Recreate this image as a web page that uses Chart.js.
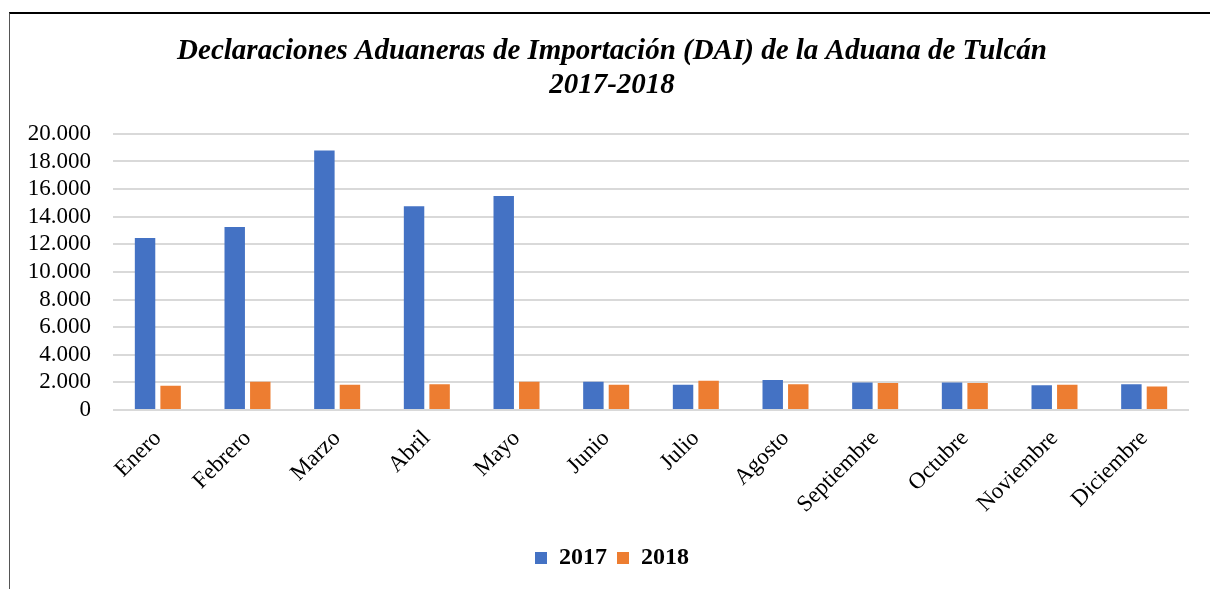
<!DOCTYPE html>
<html>
<head>
<meta charset="utf-8">
<script src="https://cdn.jsdelivr.net/npm/chart.js@4"></script>
<style>
  html, body { margin: 0; padding: 0; background: #fff; overflow: hidden; }
  #marco { position: absolute; left: 9px; top: 12px; width: 1400px; height: 800px;
           border-top: 2px solid #000; border-left: 1.5px solid #555; }
  #caja { position: absolute; left: 0; top: 0; width: 1210px; height: 589px; }
</style>
</head>
<body>
<div id="marco"></div>
<div id="caja"><canvas id="chartDAI"></canvas></div>
<script>
// Datos
const meses = ['Enero', 'Febrero', 'Marzo', 'Abril', 'Mayo', 'Junio', 'Julio', 'Agosto',
               'Septiembre', 'Octubre', 'Noviembre', 'Diciembre'];
const dai2017 = [12450, 13250, 18800, 14750, 15500, 2050, 1820, 2180, 1990, 1990, 1800, 1870];
const dai2018 = [1750, 2040, 1820, 1870, 2040, 1820, 2110, 1870, 1960, 1960, 1820, 1700];
const titulo = ['Declaraciones Aduaneras de Importación (DAI) de la Aduana de Tulcán', '2017-2018'];

const serif = "'Liberation Serif', 'Times New Roman', serif";
const miles = v => String(v).replace(/\B(?=(\d{3})+(?!\d))/g, '.');

document.addEventListener('DOMContentLoaded', () => {
    new Chart(document.getElementById('chartDAI'), {
        type: 'bar',
        data: {
            labels: meses,
            datasets: [
                { label: '2017', data: dai2017, backgroundColor: '#4472C4', categoryPercentage: 0.57, barPercentage: 0.8 },
                { label: '2018', data: dai2018, backgroundColor: '#ED7D31', categoryPercentage: 0.57, barPercentage: 0.8 }
            ]
        },
        options: {
            responsive: true,
            maintainAspectRatio: false,
            animation: false,
            layout: { padding: { left: 14, right: 0, top: 0, bottom: 9 } },
            plugins: {
                title: {
                    display: true,
                    text: titulo,
                    color: '#000',
                    font: { family: serif, size: 29, weight: 'bold', style: 'italic', lineHeight: 1.17 },
                    padding: { top: 35, bottom: 31 }
                },
                legend: {
                    position: 'bottom',
                    labels: {
                        color: '#000',
                        boxWidth: 12, boxHeight: 12,
                        padding: 10,
                        font: { family: serif, size: 24, weight: 'bold' }
                    }
                },
                tooltip: { enabled: false }
            },
            scales: {
                x: {
                    grid: { display: false },
                    border: { display: false },
                    ticks: {
                        color: '#000',
                        minRotation: 45, maxRotation: 45,
                        padding: 7,
                        font: { family: serif, size: 23 }
                    },
                    afterFit: s => { s.height = 126; }
                },
                y: {
                    min: 0, max: 20000,
                    grid: { color: '#d9d9d9', lineWidth: 2, drawTicks: false },
                    border: { display: false },
                    ticks: {
                        stepSize: 2000,
                        autoSkip: false,
                        color: '#000',
                        padding: 22,
                        font: { family: serif, size: 23 },
                        callback: v => miles(v)
                    },
                    afterFit: s => { s.width = 99; }
                },
                // eje vacío a la derecha, solo reserva margen
                margenDer: {
                    position: 'right',
                    grid: { display: false },
                    border: { display: false },
                    ticks: { display: false },
                    afterFit: s => { s.width = 21; }
                }
            }
        }
    });
});
</script>
</body>
</html>
